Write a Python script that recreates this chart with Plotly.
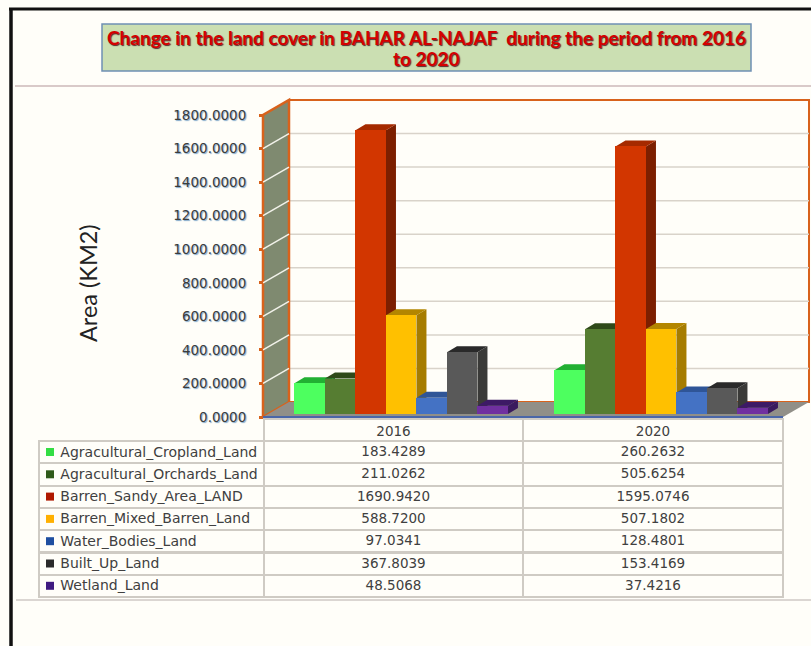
import plotly.graph_objects as go

years = ["2016", "2020"]
classes = ["Agracultural_Cropland_Land", "Agracultural_Orchards_Land", "Barren_Sandy_Area_LAND",
           "Barren_Mixed_Barren_Land", "Water_Bodies_Land", "Built_Up_Land", "Wetland_Land"]
area_2016 = [183.4289, 211.0262, 1690.9420, 588.7200, 97.0341, 367.8039, 48.5068]
area_2020 = [260.2632, 505.6254, 1595.0746, 507.1802, 128.4801, 153.4169, 37.4216]
area_2016_txt = ["183.4289", "211.0262", "1690.9420", "588.7200", "97.0341", "367.8039", "48.5068"]
area_2020_txt = ["260.2632", "505.6254", "1595.0746", "507.1802", "128.4801", "153.4169", "37.4216"]
front = ["#4dff5f", "#567d32", "#d23600", "#ffc000", "#4472c4", "#595959", "#7030a0"]
side = ["#1f9a2d", "#2c4519", "#7c1f00", "#a67c00", "#2a4a85", "#3a3a38", "#3a1a5e"]
top = ["#22b033", "#2f4a1a", "#a52a00", "#b38600", "#2f5597", "#2a2a2a", "#3d1a66"]
swatch = ["#33dd44", "#2f5a1a", "#b01800", "#ffb000", "#1f4fa0", "#2a2a2a", "#3f1a80"]
y_ticks = [0, 200, 400, 600, 800, 1000, 1200, 1400, 1600, 1800]
title_lines = ["Change in the land cover in BAHAR AL-NAJAF  during the period from 2016", "to 2020"]

W, H = 811, 646
cat_px = 260.0               # pixels per category
val_px = 302.0 / 1800.0      # pixels per km2
x_rng = [-0.5 - 263 / cat_px, -0.5 + (W - 263) / cat_px]
y_rng = [(417 - H) / val_px, 417 / val_px]
x0, x1 = -0.5, 1.5
ymax = 1800
wall_dx, wall_dy = 26 / cat_px, 15 / val_px
bar_dx, bar_dy = 10 / cat_px, 6 / val_px
bar_w = 30.5 / cat_px
bar_start = -0.379
bar_base = 3 / val_px

ORANGE = "#d8621c"
BG = "#fffef9"
GRID = "#d9d3ca"
LINE = "#cfcbc4"
CLEAR = "rgba(0,0,0,0)"


def poly(xs, ys, fill, line=None, width=0):
    return go.Scatter(x=xs, y=ys, mode="lines", fill="toself", fillcolor=fill,
                      line=dict(color=line or fill, width=width), hoverinfo="skip", showlegend=False)


def lines(xs, ys, color, width=1.5):
    return go.Scatter(x=xs, y=ys, mode="lines", line=dict(color=color, width=width),
                      hoverinfo="skip", showlegend=False)


fig = go.Figure()
# back wall, side wall, floor
fig.add_trace(poly([x0 + wall_dx, x1 + wall_dx, x1 + wall_dx, x0 + wall_dx, x0 + wall_dx],
                   [wall_dy, wall_dy, ymax + wall_dy, ymax + wall_dy, wall_dy], BG, ORANGE, 2))
gx, gy, wx, wy = [], [], [], []
for v in y_ticks[1:-1]:
    gx += [x0 + wall_dx, x1 + wall_dx, None]
    gy += [v + wall_dy, v + wall_dy, None]
    wx += [x0, x0 + wall_dx, None]
    wy += [v, v + wall_dy, None]
fig.add_trace(lines(gx, gy, GRID, 1.5))
fig.add_trace(poly([x0, x0 + wall_dx, x0 + wall_dx, x0, x0],
                   [0, wall_dy, ymax + wall_dy, ymax, 0], "#7f8a70", ORANGE, 2.5))
fig.add_trace(lines(wx, wy, "#f2f2ea", 1.5))
fig.add_trace(poly([x0, x1, x1 + wall_dx, x0 + wall_dx, x0], [0, 0, wall_dy, wall_dy, 0], "#918f88"))
fig.add_trace(lines([x0, x1], [0, 0], "#4a66a8", 2))

# bar depth faces, left to right
for i, name in enumerate(classes):
    vals = [area_2016[i], area_2020[i]]
    sx, sy, tx, ty = [], [], [], []
    for g, v in enumerate(vals):
        l = g + bar_start + i * bar_w
        r = l + bar_w
        t = bar_base + v
        sx += [r, r + bar_dx, r + bar_dx, r, r, None]
        sy += [bar_base, bar_base + bar_dy, t + bar_dy, t, bar_base, None]
        tx += [l, r, r + bar_dx, l + bar_dx, l, None]
        ty += [t, t, t + bar_dy, t + bar_dy, t, None]
    fig.add_trace(poly(sx, sy, side[i]))
    fig.add_trace(poly(tx, ty, top[i]))

# colour keys of the data table
key_px_x = 50
key_px_y = [452 + 22.3 * r for r in range(len(classes))]
fig.add_trace(go.Scatter(x=[x0 + (key_px_x - 263) / cat_px] * len(classes),
                         y=[(417 - p) / val_px for p in key_px_y],
                         mode="markers", marker=dict(symbol="square", size=8, color=swatch, line=dict(width=0)),
                         hoverinfo="skip", showlegend=False))

# bar front faces, on an overlay so they sit above all depth faces
for i, name in enumerate(classes):
    fig.add_trace(go.Bar(name=name, x=[0, 1], y=[area_2016[i], area_2020[i]], base=bar_base,
                         width=bar_w, offset=bar_start + i * bar_w, marker=dict(color=front[i], line=dict(width=0)),
                         xaxis="x2", yaxis="y2", showlegend=False))

col_w = [225, 259, 260]
PAD = "\u00a0\u00a0\u00a0"
# table grid
fig.add_trace(go.Table(
    domain=dict(x=[39 / W, 783.5 / W], y=[1 - 610 / H, 1 - 419 / H]), columnwidth=col_w,
    header=dict(values=["", "", ""], height=22, fill=dict(color=CLEAR), line=dict(color=[CLEAR, LINE, LINE], width=2)),
    cells=dict(values=[[""] * 7, [""] * 7, [""] * 7], height=22.3,
               fill=dict(color=CLEAR), line=dict(color=LINE, width=2)),
))
# table text, lifted slightly within the grid
fig.add_trace(go.Table(
    domain=dict(x=[39 / W, 783.5 / W], y=[1 - 609 / H, 1 - 418 / H]), columnwidth=col_w,
    header=dict(values=["", years[0], years[1]], height=20, align="center",
                fill=dict(color=CLEAR), line=dict(color=CLEAR, width=0),
                font=dict(family="DejaVu Sans", size=13.5, color="#404040")),
    cells=dict(values=[[PAD + n for n in classes], area_2016_txt, area_2020_txt], height=22.3,
               align=["left", "center", "center"],
               fill=dict(color=CLEAR), line=dict(color=CLEAR, width=0),
               font=dict(family="DejaVu Sans", size=[14, 13.5, 13.5], color="#404040")),
))

fig.update_layout(
    width=W, height=H, margin=dict(l=0, r=0, t=0, b=0), autosize=False,
    paper_bgcolor=BG, plot_bgcolor=CLEAR, showlegend=False, bargap=0,
    xaxis=dict(range=x_rng, domain=[0, 1], visible=False, fixedrange=True),
    yaxis=dict(range=y_rng, domain=[0, 1], anchor="free", position=263 / W,
               tickvals=y_ticks, ticktext=[f"{v:.4f}" for v in y_ticks],
               ticks="outside", ticklen=4, tickwidth=3, tickcolor=ORANGE, ticklabelstandoff=10,
               tickfont=dict(family="DejaVu Sans", size=13.5, color="#3c3c3c", shadow="1px 1px 1px #7fa6c8"),
               showgrid=False, zeroline=False, showline=False, fixedrange=True),
    xaxis2=dict(range=x_rng, domain=[0, 1], overlaying="x", visible=False, fixedrange=True),
    yaxis2=dict(range=y_rng, domain=[0, 1], overlaying="y", visible=False, fixedrange=True),
    shapes=[
        dict(type="line", xref="paper", yref="paper", x0=11 / W, x1=11 / W, y0=0, y1=1 - 8 / H,
             line=dict(color="#111111", width=3.5)),
        dict(type="line", xref="paper", yref="paper", x0=9 / W, x1=1, y0=1 - 9 / H, y1=1 - 9 / H,
             line=dict(color="#111111", width=3)),
        dict(type="line", xref="paper", yref="paper", x0=15 / W, x1=1, y0=1 - 86 / H, y1=1 - 86 / H,
             line=dict(color="#cdb9b9", width=1.5)),
        dict(type="line", xref="paper", yref="paper", x0=16 / W, x1=1, y0=1 - 600 / H, y1=1 - 600 / H,
             line=dict(color="#cfc8c4", width=1.5)),
        dict(type="rect", xref="paper", yref="paper", x0=102 / W, x1=751 / W, y0=1 - 71 / H, y1=1 - 24 / H,
             fillcolor="#cbdfb2", line=dict(color="#6f90b4", width=1.5)),
    ],
    annotations=[
        dict(xref="paper", yref="paper", x=426.5 / W, y=1 - 37.5 / H, xanchor="center", yanchor="middle",
             text=f"<b>{title_lines[0]}</b>", showarrow=False,
             font=dict(family="Lato", size=19, color="#d40000", shadow="1px 1px 1px #5a2a2a")),
        dict(xref="paper", yref="paper", x=426.5 / W, y=1 - 59 / H, xanchor="center", yanchor="middle",
             text=f"<b>{title_lines[1]}</b>", showarrow=False,
             font=dict(family="Lato", size=19, color="#d40000", shadow="1px 1px 1px #5a2a2a")),
        dict(xref="paper", yref="paper", x=88 / W, y=1 - 283 / H, xanchor="center", yanchor="middle",
             text="Area (KM2)", textangle=-90, showarrow=False,
             font=dict(family="Lato", size=23.5, color="#222222")),
    ],
)

fig.write_html("out.html", config=dict(displayModeBar=False),
               post_script="document.body.style.margin='0';document.body.style.background='#fffef9';document.documentElement.style.overflow='hidden';")
